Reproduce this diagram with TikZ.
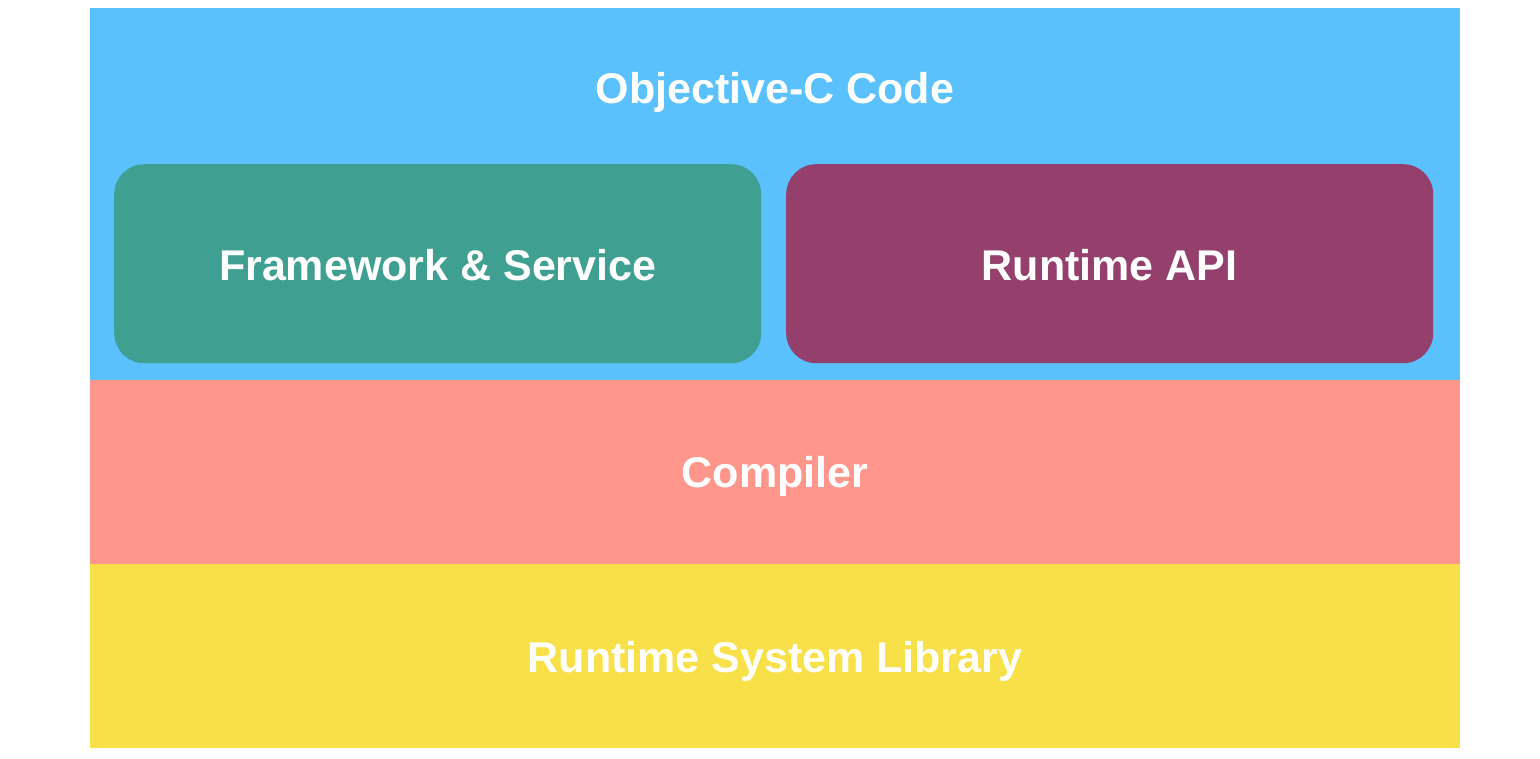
\documentclass[tikz,border=0pt]{standalone}
\usepackage{fontspec}
\setmainfont{Liberation Sans}
\definecolor{cblue}{HTML}{5AC1FC}
\definecolor{csalmon}{HTML}{FF968C}
\definecolor{cyellow}{HTML}{F8E048}
\definecolor{cgreen}{HTML}{3FA092}
\definecolor{cpurple}{HTML}{943F6C}
\begin{document}
\begin{tikzpicture}[x=1pt,y=-1pt,
  layer/.style={fill=#1,draw=none},
  tile/.style={fill=#1,draw=none,rounded corners=30pt},
  lbl/.style={text=white,font=\fontsize{43}{50}\selectfont\bfseries,inner sep=0pt}]
\useasboundingbox[fill=white] (0,0) rectangle (1540,758);
\fill[layer=cblue] (90,8) rectangle (1460,380);
\fill[layer=csalmon] (90,380) rectangle (1460,564);
\fill[layer=cyellow] (90,564) rectangle (1460,748);
\node[tile=cgreen,minimum width=647pt,minimum height=199pt,anchor=north west] (fw) at (114,164) {};
\node[tile=cpurple,minimum width=647pt,minimum height=199pt,anchor=north west] (rt) at (786,164) {};
\node[lbl] (objc) at (775,92) {Objective-C Code};
\node[lbl] (fwl) at ([yshift=-1pt]fw.center) {Framework \& Service};
\node[lbl] (rtl) at ([yshift=-1pt]rt.center) {Runtime API};
\node[lbl] (comp) at (775,476) {Compiler};
\node[lbl] (rsl) at (775,661) {Runtime System Library};
\end{tikzpicture}
\end{document}
